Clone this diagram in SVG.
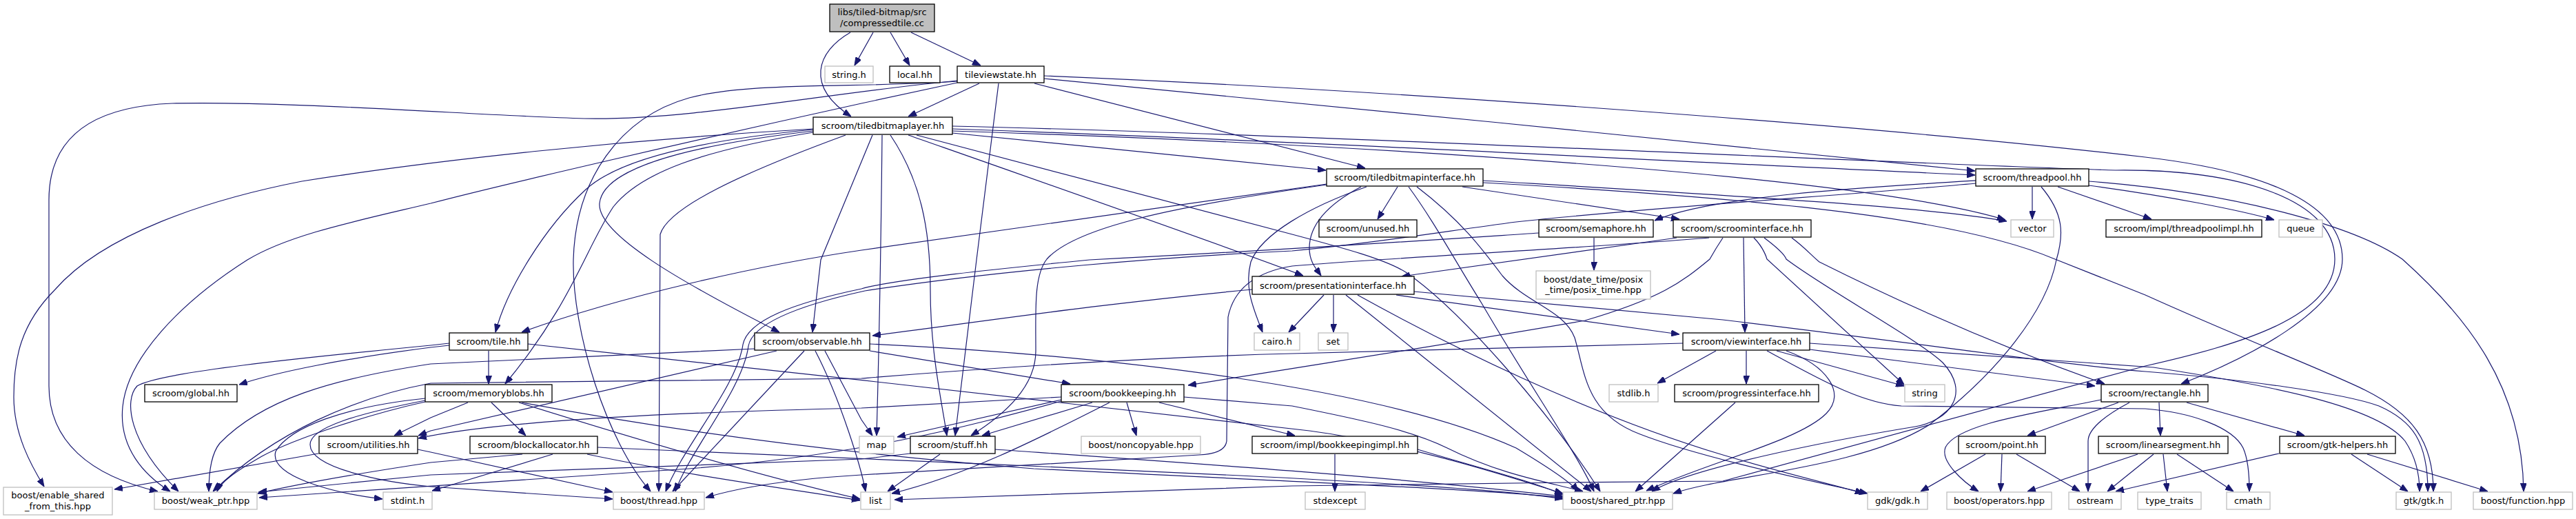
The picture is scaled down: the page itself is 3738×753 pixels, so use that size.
<svg xmlns="http://www.w3.org/2000/svg" width="3738" height="753" viewBox="0 0 3738 753">
<style>
.n rect{fill:#fff;stroke:#000;stroke-width:1.3}
.x rect{fill:#fff;stroke:#bfbfbf;stroke-width:1.3}
.r rect{fill:#bfbfbf;stroke:#000;stroke-width:1.3}
text{font-family:"DejaVu Sans",sans-serif;font-size:13px;text-anchor:middle;fill:#000}
.e path{fill:none;stroke:#191970;stroke-width:1.2;marker-end:url(#a)}
</style>
<defs>
<marker id="a" viewBox="0 0 12 9" refX="12" refY="4.5" markerWidth="12" markerHeight="9" markerUnits="userSpaceOnUse" orient="auto"><path d="M0,0L12,4.5L0,9z" fill="#191970" stroke="#191970"/></marker>
</defs>
<rect width="3738" height="753" fill="#fff"/>
<g id="edges" class="e">
<path d="M1267,47 L1240,95"/>
<path d="M1292,47 L1320,95"/>
<path d="M1322,47 L1423,95"/>
<path d="M1234,47 C1185,75 1168,125 1235,169"/>
<path d="M1421,121 L1318,169"/>
<path d="M1389,117 C1200,135 1000,175 848,172 C700,168 420,146 250,150 C120,155 71,210 71,290 L71,560 C71,640 130,690 229,713"/>
<path d="M1389,118 C1250,128 1090,118 1000,142 C900,170 835,260 832,377 C830,480 880,640 944,713"/>
<path d="M1389,120 L1250,150 C1000,205 720,270 625,295 C520,320 420,340 359,377 C260,440 185,520 178,590 C172,650 210,690 247,713"/>
<path d="M1180,187 C900,203 625,233 438,263 C300,290 150,340 80,420 C30,470 20,520 20,576 C20,630 45,675 64,706"/>
<path d="M1180,188 C990,206 890,238 850,275 C790,330 735,420 719,482"/>
<path d="M1180,190 C990,212 875,245 870,295 C866,340 990,410 1131,482"/>
<path d="M1180,192 C1020,218 930,250 890,300 C850,360 830,440 733,557"/>
<path d="M1227,196 C1080,250 970,300 958,340 L956,713"/>
<path d="M1266,196 L1191,377 L1179,482"/>
<path d="M1280,196 C1279,300 1277,450 1272,632"/>
<path d="M1292,196 C1335,260 1350,330 1350,420 C1350,510 1366,580 1374,632"/>
<path d="M1449,121 L1417,377 L1386,632"/>
<path d="M1501,121 L1981,244"/>
<path d="M1382,193 L1924,247"/>
<path d="M1515,114 C1900,150 2500,210 2866,248"/>
<path d="M1382,187 C1900,205 2500,238 2866,254"/>
<path d="M2028,271 L1999,318"/>
<path d="M2867,262 C2700,272 2480,285 2401,320"/>
<path d="M2122,271 L2437,318"/>
<path d="M2949,271 L2949,318"/>
<path d="M2152,262 C2500,283 2800,300 2912,321"/>
<path d="M1382,190 C2000,210 2700,255 2910,319"/>
<path d="M2986,271 L3122,318"/>
<path d="M3031,269 C3150,285 3250,305 3300,319"/>
<path d="M3031,263 C3250,280 3420,330 3486,376 C3580,460 3660,560 3662,713"/>
<path d="M1515,110 C2000,130 2700,180 3113,228 C3300,250 3399,300 3399,376 C3399,450 3260,520 3165,557"/>
<path d="M1382,183 C1900,195 2700,235 3070,247 C3250,245 3388,290 3388,376 C3388,460 3250,500 3113,531 L2500,698 C2300,700 2000,702 1875,705 L1298,725"/>
<path d="M1330,196 L1875,340 C1950,360 2010,376 2040,395 C2120,450 2250,600 2322,713"/>
<path d="M1318,196 C1600,295 1800,365 1891,400"/>
<path d="M1925,267 L1250,363 C1100,385 900,430 757,482"/>
<path d="M1925,268 C1700,300 1560,330 1519,376 C1500,400 1503,450 1503,509 C1503,560 1460,600 1409,632"/>
<path d="M1983,271 C1900,300 1830,340 1815,380 C1805,420 1820,450 1832,482"/>
<path d="M1975,271 C1920,300 1900,330 1900,360 C1900,380 1910,390 1917,400"/>
<path d="M2044,271 C2080,320 2110,376 2150,440 C2220,560 2290,660 2313,713"/>
<path d="M2056,271 C2120,320 2150,360 2180,400 C2215,440 2270,450 2285,490 C2300,540 2300,600 2380,630 C2470,665 2640,700 2710,716"/>
<path d="M2152,265 C2600,290 2850,320 2982,376 L3113,428 C3250,490 3380,540 3432,566 C3500,600 3531,640 3531,713"/>
<path d="M652,501 L625,504 C500,520 400,540 347,558"/>
<path d="M652,498 L625,501 C440,519 230,540 199,560 C180,580 185,640 259,713"/>
<path d="M709,509 L709,557"/>
<path d="M766,499 C1100,535 1700,600 1900,625 C2050,645 2200,695 2268,716"/>
<path d="M1095,506 L625,528 C480,550 380,580 319,643 C305,660 303,690 303,713"/>
<path d="M1167,509 L976,713"/>
<path d="M1183,509 C1220,580 1250,680 1256,713"/>
<path d="M1197,509 L1250,609 L1266,632"/>
<path d="M1262,509 L1553,557"/>
<path d="M1262,499 C1600,515 2000,560 2200,650 C2250,680 2280,700 2290,713"/>
<path d="M1127,509 L625,625 L607,632"/>
<path d="M679,584 L625,606 L572,632"/>
<path d="M713,584 L763,632"/>
<path d="M617,578 C500,590 420,620 400,655 C390,690 480,715 555,724"/>
<path d="M617,581 C520,600 450,620 450,645 C450,680 560,700 625,706 C720,713 800,718 889,724"/>
<path d="M617,583 C540,600 430,635 380,662 C340,685 320,700 315,713"/>
<path d="M753,584 C900,630 1100,690 1248,724"/>
<path d="M757,584 C1000,630 1250,660 1500,680 C1900,700 2150,710 2268,722"/>
<path d="M2442,498 L1875,513 C1600,520 1300,545 1250,549 L625,556 C518,576 399,626 309,713"/>
<path d="M802,659 L627,712"/>
<path d="M852,659 C1000,690 1150,710 1248,726"/>
<path d="M867,649 C1100,660 1500,675 1800,690 C2000,700 2200,712 2268,724"/>
<path d="M758,659 L625,671 C500,690 420,705 374,716"/>
<path d="M462,658 L166,710"/>
<path d="M606,652 L625,656 L889,714"/>
<path d="M1364,659 L1288,713"/>
<path d="M1444,652 C1700,670 2000,690 2268,720"/>
<path d="M1321,658 L1250,666 L625,689 L375,714"/>
<path d="M1540,580 L1302,634"/>
<path d="M1585,584 L1425,632"/>
<path d="M1610,584 C1500,640 1400,690 1294,716"/>
<path d="M1635,584 L1649,632"/>
<path d="M1682,584 L1879,632"/>
<path d="M1718,576 L1875,589 C1980,610 2050,625 2100,650 C2180,690 2250,700 2297,713"/>
<path d="M1540,576 L1250,592 C900,600 700,615 607,636"/>
<path d="M1540,582 C1400,620 1250,660 1000,680 C700,700 500,712 376,722"/>
<path d="M1937,659 L1937,713"/>
<path d="M2057,652 C2150,680 2230,700 2268,718"/>
<path d="M1921,428 L1870,482"/>
<path d="M1935,428 L1935,482"/>
<path d="M2026,428 L2437,485"/>
<path d="M1953,428 L2309,713"/>
<path d="M1970,428 C2100,500 2300,600 2500,660 C2600,690 2680,708 2704,716"/>
<path d="M2052,423 L2500,464 C2800,500 3000,530 3113,539 C3250,550 3400,570 3452,589 C3500,610 3523,640 3523,713"/>
<path d="M1817,420 C1600,440 1400,470 1266,487"/>
<path d="M2433,345 L2034,401"/>
<path d="M2530,345 L2532,482"/>
<path d="M2545,345 C2560,360 2564,376 2564,376 L2763,558"/>
<path d="M2560,345 C2580,360 2590,370 2592,376 C2650,420 2780,490 2819,526 C2860,570 2830,610 2779,619 C2650,640 2450,680 2397,713"/>
<path d="M2600,345 C2620,360 2628,370 2640,380 C2800,460 2950,520 3054,557"/>
<path d="M2500,345 C2490,360 2481,376 2481,376 C2440,410 2409,433 2300,465 C2100,500 1900,530 1724,559"/>
<path d="M2480,345 C2300,360 2000,375 1875,386 C1820,395 1790,420 1782,460 L1780,640 C1778,655 1760,659 1740,660 L1250,689 C1150,695 1080,705 1024,722"/>
<path d="M2313,345 L2313,392"/>
<path d="M2233,338 C2050,350 1875,362 1581,377 C1450,390 1300,405 1250,419 C1150,440 1085,465 1078,500 C1070,560 990,650 966,713"/>
<path d="M2867,266 C2700,282 2400,300 2200,322 C2100,335 2000,352 1875,364 C1700,372 1450,392 1255,422 C1155,444 1092,470 1086,502 C1078,565 1000,655 980,713"/>
<path d="M2962,271 C2995,310 2995,340 2984,377 C2970,450 2900,540 2800,616 C2700,680 2500,690 2428,716"/>
<path d="M2490,509 L2405,556"/>
<path d="M2534,509 L2534,557"/>
<path d="M2578,509 L2763,560"/>
<path d="M2626,507 L3040,560"/>
<path d="M2626,498 L3125,533 C3300,560 3450,590 3490,640 C3510,670 3511,700 3511,713"/>
<path d="M2564,509 C2640,550 2700,585 2759,589 L3113,593 C3180,598 3240,620 3255,650 C3264,670 3264,700 3264,713"/>
<path d="M2592,509 C2650,530 2680,570 2650,600 C2610,640 2480,670 2389,712"/>
<path d="M2518,584 L2373,713"/>
<path d="M3074,584 L2942,632"/>
<path d="M3090,584 C3060,600 3030,620 3030,640 L3030,713"/>
<path d="M3049,580 C2950,600 2840,615 2823,649 C2815,670 2850,700 2871,713"/>
<path d="M3133,584 L3135,632"/>
<path d="M3173,584 L3344,632"/>
<path d="M2881,659 L2787,713"/>
<path d="M2905,659 L2903,713"/>
<path d="M2926,659 L3018,713"/>
<path d="M3102,659 L2942,713"/>
<path d="M3125,659 L3058,713"/>
<path d="M3139,659 L3145,713"/>
<path d="M3159,659 L3241,713"/>
<path d="M3412,659 L3494,713"/>
<path d="M3435,659 L3610,713"/>
<path d="M3307,658 L3070,713"/>
</g>
<g id="n_root" class="r"><rect x="1204" y="6" width="152" height="40"/><text x="1280" y="22">libs/tiled-bitmap/src</text><text x="1280" y="38">/compressedtile.cc</text></g>
<g id="n_string_h" class="x"><rect x="1197" y="96" width="70" height="24"/><text x="1232" y="112.5">string.h</text></g>
<g id="n_local" class="n"><rect x="1291" y="96" width="73" height="24"/><text x="1327.5" y="112.5">local.hh</text></g>
<g id="n_tileviewstate" class="n"><rect x="1389" y="96" width="126" height="24"/><text x="1452" y="112.5">tileviewstate.hh</text></g>
<g id="n_tiledbitmaplayer" class="n"><rect x="1180" y="170" width="202" height="25"/><text x="1281" y="187">scroom/tiledbitmaplayer.hh</text></g>
<g id="n_tiledbitmapinterface" class="n"><rect x="1925" y="245" width="227" height="25"/><text x="2038.5" y="262">scroom/tiledbitmapinterface.hh</text></g>
<g id="n_threadpool" class="n"><rect x="2867" y="245" width="164" height="25"/><text x="2949" y="262">scroom/threadpool.hh</text></g>
<g id="n_unused" class="n"><rect x="1914" y="319" width="142" height="25"/><text x="1985" y="336">scroom/unused.hh</text></g>
<g id="n_semaphore" class="n"><rect x="2233" y="319" width="166" height="25"/><text x="2316" y="336">scroom/semaphore.hh</text></g>
<g id="n_scroominterface" class="n"><rect x="2428" y="319" width="200" height="25"/><text x="2528" y="336">scroom/scroominterface.hh</text></g>
<g id="n_vector" class="x"><rect x="2918" y="319" width="62" height="25"/><text x="2949" y="336">vector</text></g>
<g id="n_threadpoolimpl" class="n"><rect x="3056" y="319" width="226" height="25"/><text x="3169" y="336">scroom/impl/threadpoolimpl.hh</text></g>
<g id="n_queue" class="x"><rect x="3307" y="319" width="63" height="25"/><text x="3338.5" y="336">queue</text></g>
<g id="n_posix_time" class="x"><rect x="2229" y="393" width="166" height="41"/><text x="2312" y="410">boost/date_time/posix</text><text x="2312" y="425">_time/posix_time.hpp</text></g>
<g id="n_presentationinterface" class="n"><rect x="1817" y="401" width="235" height="26"/><text x="1934.5" y="418.5">scroom/presentationinterface.hh</text></g>
<g id="n_tile" class="n"><rect x="652" y="483" width="114" height="25"/><text x="709" y="500">scroom/tile.hh</text></g>
<g id="n_observable" class="n"><rect x="1095" y="483" width="167" height="25"/><text x="1178.5" y="500">scroom/observable.hh</text></g>
<g id="n_cairo" class="x"><rect x="1820" y="483" width="66" height="25"/><text x="1853" y="500">cairo.h</text></g>
<g id="n_set" class="x"><rect x="1913" y="483" width="43" height="25"/><text x="1934.5" y="500">set</text></g>
<g id="n_viewinterface" class="n"><rect x="2442" y="483" width="184" height="25"/><text x="2534" y="500">scroom/viewinterface.hh</text></g>
<g id="n_global" class="n"><rect x="210" y="558" width="134" height="25"/><text x="277" y="575">scroom/global.hh</text></g>
<g id="n_memoryblobs" class="n"><rect x="617" y="558" width="184" height="25"/><text x="709" y="575">scroom/memoryblobs.hh</text></g>
<g id="n_bookkeeping" class="n"><rect x="1540" y="558" width="178" height="25"/><text x="1629" y="575">scroom/bookkeeping.hh</text></g>
<g id="n_stdlib" class="x"><rect x="2335" y="558" width="71" height="25"/><text x="2370.5" y="575">stdlib.h</text></g>
<g id="n_progressinterface" class="n"><rect x="2430" y="558" width="209" height="25"/><text x="2534.5" y="575">scroom/progressinterface.hh</text></g>
<g id="n_string" class="x"><rect x="2764" y="558" width="58" height="25"/><text x="2793" y="575">string</text></g>
<g id="n_rectangle" class="n"><rect x="3049" y="558" width="155" height="25"/><text x="3126.5" y="575">scroom/rectangle.hh</text></g>
<g id="n_utilities" class="n"><rect x="463" y="633" width="143" height="25"/><text x="534.5" y="650">scroom/utilities.hh</text></g>
<g id="n_blockallocator" class="n"><rect x="682" y="633" width="185" height="25"/><text x="774.5" y="650">scroom/blockallocator.hh</text></g>
<g id="n_map" class="x"><rect x="1247" y="633" width="50" height="25"/><text x="1272" y="650">map</text></g>
<g id="n_stuff" class="n"><rect x="1321" y="633" width="123" height="25"/><text x="1382.5" y="650">scroom/stuff.hh</text></g>
<g id="n_noncopyable" class="x"><rect x="1569" y="633" width="173" height="25"/><text x="1655.5" y="650">boost/noncopyable.hpp</text></g>
<g id="n_bookkeepingimpl" class="n"><rect x="1817" y="633" width="240" height="25"/><text x="1937" y="650">scroom/impl/bookkeepingimpl.hh</text></g>
<g id="n_point" class="n"><rect x="2842" y="633" width="126" height="25"/><text x="2905" y="650">scroom/point.hh</text></g>
<g id="n_linearsegment" class="n"><rect x="3045" y="633" width="188" height="25"/><text x="3139" y="650">scroom/linearsegment.hh</text></g>
<g id="n_gtkhelpers" class="n"><rect x="3308" y="633" width="168" height="25"/><text x="3392" y="650">scroom/gtk-helpers.hh</text></g>
<g id="n_enable_shared" class="x"><rect x="5" y="707" width="158" height="40"/><text x="84" y="723">boost/enable_shared</text><text x="84" y="739">_from_this.hpp</text></g>
<g id="n_weak_ptr" class="x"><rect x="224" y="714" width="149" height="25"/><text x="298.5" y="731">boost/weak_ptr.hpp</text></g>
<g id="n_stdint" class="x"><rect x="556" y="714" width="71" height="25"/><text x="591.5" y="731">stdint.h</text></g>
<g id="n_thread" class="x"><rect x="890" y="714" width="132" height="25"/><text x="956" y="731">boost/thread.hpp</text></g>
<g id="n_list" class="x"><rect x="1249" y="714" width="43" height="25"/><text x="1270.5" y="731">list</text></g>
<g id="n_stdexcept" class="x"><rect x="1894" y="714" width="87" height="25"/><text x="1937.5" y="731">stdexcept</text></g>
<g id="n_shared_ptr" class="x"><rect x="2268" y="714" width="159" height="25"/><text x="2347.5" y="731">boost/shared_ptr.hpp</text></g>
<g id="n_gdk" class="x"><rect x="2710" y="714" width="87" height="25"/><text x="2753.5" y="731">gdk/gdk.h</text></g>
<g id="n_operators" class="x"><rect x="2825" y="714" width="152" height="25"/><text x="2901" y="731">boost/operators.hpp</text></g>
<g id="n_ostream" class="x"><rect x="3002" y="714" width="76" height="25"/><text x="3040" y="731">ostream</text></g>
<g id="n_type_traits" class="x"><rect x="3102" y="714" width="92" height="25"/><text x="3148" y="731">type_traits</text></g>
<g id="n_cmath" class="x"><rect x="3231" y="714" width="63" height="25"/><text x="3262.5" y="731">cmath</text></g>
<g id="n_gtk" class="x"><rect x="3477" y="714" width="80" height="25"/><text x="3517" y="731">gtk/gtk.h</text></g>
<g id="n_function" class="x"><rect x="3589" y="714" width="144" height="25"/><text x="3661" y="731">boost/function.hpp</text></g>
</svg>
